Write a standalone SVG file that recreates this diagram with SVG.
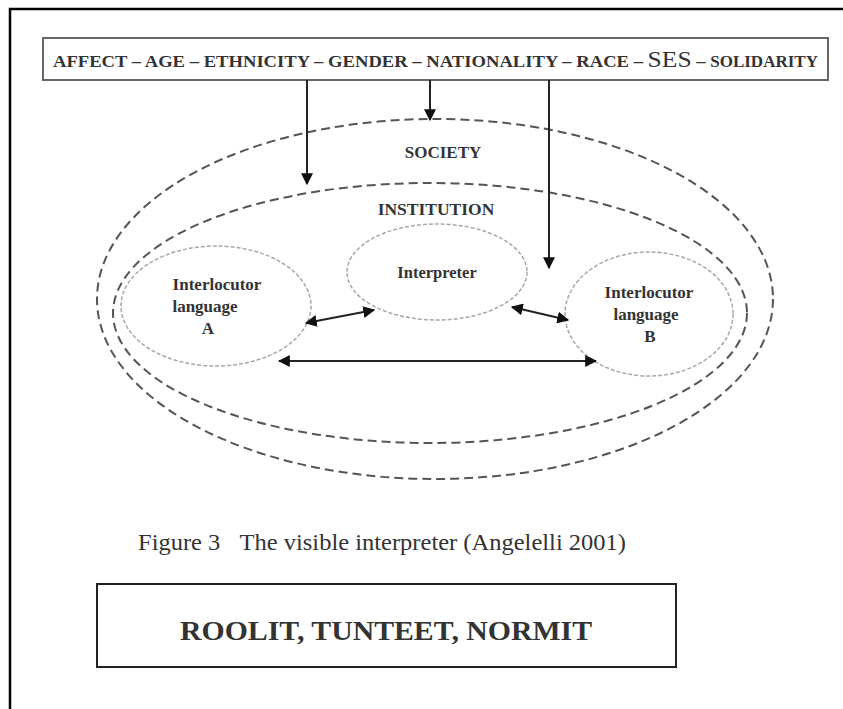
<svg xmlns="http://www.w3.org/2000/svg" width="843" height="709" viewBox="0 0 843 709">
<style>
.t{font-family:"Liberation Serif","Times New Roman",serif;fill:#333}
.b{font-weight:bold}
.ring{fill:none;stroke:#555;stroke-width:2;stroke-dasharray:9 5}
.node{fill:none;stroke:#a8a8a8;stroke-width:1.5;stroke-dasharray:4 2}
.arr{stroke:#222;stroke-width:2;fill:none}
</style>
<defs>
<marker id="ah" viewBox="0 0 10 10" refX="9" refY="5" markerWidth="6" markerHeight="6" orient="auto-start-reverse" markerUnits="strokeWidth">
<path d="M0,0 L10,5 L0,10 z" fill="#111"/>
</marker>
</defs>
<rect width="843" height="709" fill="#fff"/>
<path d="M10,709 V9 H843" fill="none" stroke="#000" stroke-width="2.5"/>

<g id="factors">
<rect x="43" y="38" width="785" height="42" fill="#fff" stroke="#666" stroke-width="2"/>
<text class="t b" x="53" y="67" font-size="17.5" textLength="765" lengthAdjust="spacingAndGlyphs">AFFECT – AGE – ETHNICITY – GENDER – NATIONALITY – RACE – <tspan font-size="24" font-weight="normal">SES</tspan> – <tspan font-size="16">SOLIDARITY</tspan></text>
</g>

<g id="society">
<ellipse class="ring" cx="435" cy="299" rx="338" ry="180"/>
<text class="t b" x="443" y="158" font-size="17" text-anchor="middle">SOCIETY</text>
</g>

<g id="institution">
<ellipse class="ring" cx="430" cy="313" rx="317" ry="130"/>
<text class="t b" x="436" y="215" font-size="17.5" text-anchor="middle">INSTITUTION</text>
</g>

<g id="interpreter">
<ellipse class="node" cx="437" cy="272" rx="90" ry="48"/>
<text class="t b" x="437" y="278" font-size="16.5" text-anchor="middle">Interpreter</text>
</g>

<g id="interlocutorA">
<ellipse class="node" cx="216" cy="306" rx="95" ry="60"/>
<text class="t b" font-size="17" text-anchor="middle"><tspan x="217" y="290">Interlocutor</tspan><tspan x="205" y="312">language</tspan><tspan x="208" y="334">A</tspan></text>
</g>

<g id="interlocutorB">
<ellipse class="node" cx="649" cy="314" rx="84" ry="62"/>
<text class="t b" font-size="17" text-anchor="middle"><tspan x="649" y="298">Interlocutor</tspan><tspan x="646" y="320">language</tspan><tspan x="650" y="342">B</tspan></text>
</g>

<g id="connectors">
<line class="arr" x1="307" y1="80" x2="307" y2="184" marker-end="url(#ah)"/>
<line class="arr" x1="430" y1="80" x2="430" y2="120" marker-end="url(#ah)"/>
<line class="arr" x1="549" y1="80" x2="549" y2="268" marker-end="url(#ah)"/>
<line class="arr" x1="306" y1="323" x2="374" y2="310" marker-start="url(#ah)" marker-end="url(#ah)"/>
<line class="arr" x1="512" y1="307" x2="568" y2="320" marker-start="url(#ah)" marker-end="url(#ah)"/>
<line class="arr" x1="279" y1="361" x2="596" y2="361" marker-start="url(#ah)" marker-end="url(#ah)"/>
</g>

<g id="caption">
<text class="t" x="138" y="550" font-size="23" fill="#444" textLength="488" lengthAdjust="spacingAndGlyphs">Figure 3<tspan dx="18">The visible interpreter (Angelelli 2001)</tspan></text>
</g>

<g id="norms">
<rect x="97" y="584" width="579" height="83" fill="#fff" stroke="#222" stroke-width="2"/>
<text class="t b" x="180" y="640" font-size="28" fill="#111" textLength="412" lengthAdjust="spacingAndGlyphs">ROOLIT, TUNTEET, NORMIT</text>
</g>
</svg>
